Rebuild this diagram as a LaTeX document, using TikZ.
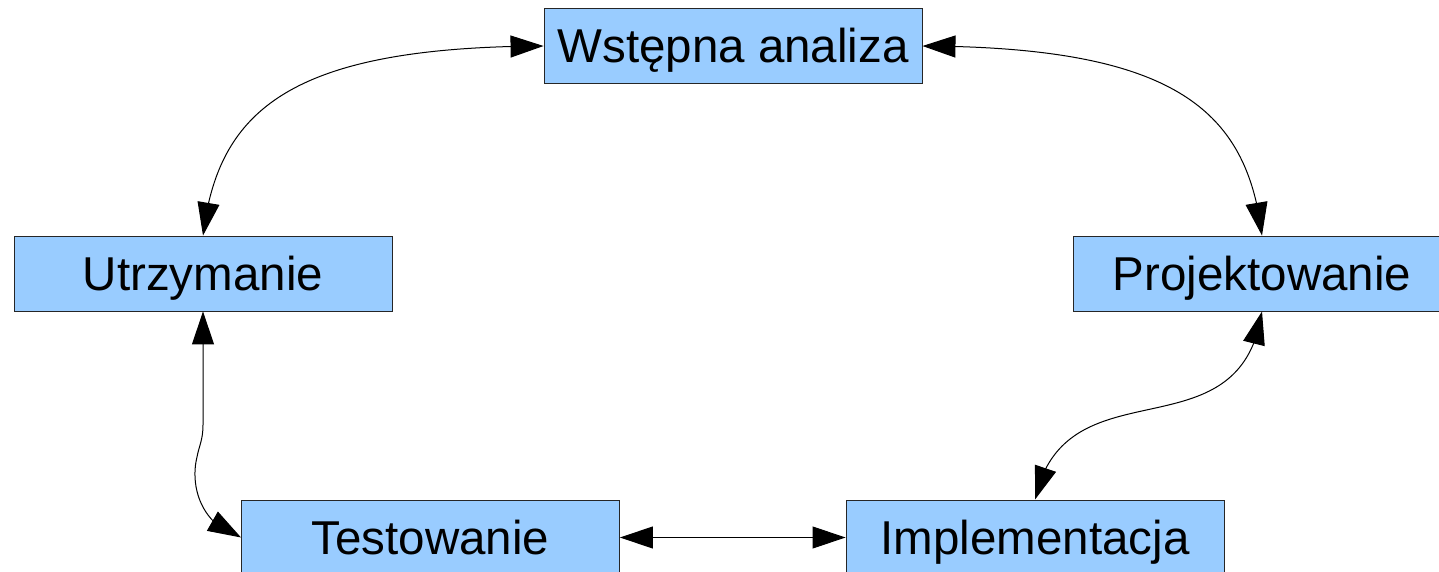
\documentclass[tikz,border=0pt]{standalone}
\usepackage{fontspec}
\setmainfont{Liberation Sans}
\usetikzlibrary{arrows.meta,bending}
\definecolor{boxblue}{HTML}{99CCFF}
\begin{document}
\begin{tikzpicture}[x=1pt,y=-1pt,
  phase/.style={draw=black!85, line width=0.9pt, fill=boxblue,
    minimum width=378pt, minimum height=75pt, inner sep=0pt,
    font=\fontsize{47.5}{52}\selectfont, text height=33.5pt, text depth=0pt},
  tip/.tip={Triangle[length=33pt,width=22pt]},
  link/.style={line width=1pt, draw=black, tip-tip}]
\clip (0,0) rectangle (1439,572);
\fill[white] (0,0) rectangle (1439,572);

% phases of the cycle
\node[phase] (wa) at (733,46)    {Wstępna analiza};
\node[phase] (ut) at (203,273.5) {Utrzymanie};
\node[phase] (pr) at (1262,273.5){Projektowanie};
\node[phase] (te) at (430.5,537.5){Testowanie};
\node[phase] (im) at (1035,537.5){Implementacja};

% two-way links between phases
\draw[link] (wa.west) .. controls (290,47) and (218,110) .. (ut.north);
\draw[link] (wa.east) .. controls (1175,47) and (1247,110) .. (pr.north);
\draw[link] (pr.south) .. controls (1240,460) and (1065,360) .. (im.north);
\draw[link] (ut.south) -- (203,425) .. controls (203,440) and (199,446) .. (197,457)
  .. controls (190,485) and (200,525) .. (te.west);
\draw[link] (te.east) -- (im.west);
\end{tikzpicture}
\end{document}
